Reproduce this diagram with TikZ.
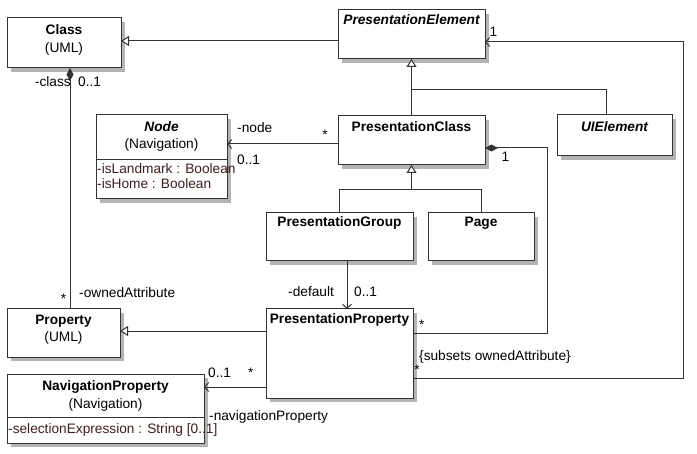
\documentclass[tikz,border=0pt]{standalone}
\usepackage{fontspec}
\setmainfont{Liberation Sans}
\usetikzlibrary{arrows.meta,shadows}
\definecolor{linec}{HTML}{333333}
\definecolor{attrc}{HTML}{3F1F1F}
\definecolor{shadowc}{HTML}{B4B4B4}
\newcommand{\fsz}{\fontsize{13.7bp}{16.5bp}\selectfont}
\begin{document}
\begin{tikzpicture}[x=1bp,y=-1bp,
  box/.style={draw=linec, line width=1bp, fill=white, anchor=north west,
    inner sep=0, outer sep=0,
    drop shadow={shadow xshift=4bp, shadow yshift=-4bp, fill=shadowc, draw=none, opacity=1}},
  ttl/.style={font=\fsz\bfseries, anchor=base, inner sep=0},
  ttli/.style={font=\fsz\bfseries\itshape, anchor=base, inner sep=0},
  sub/.style={font=\fsz, anchor=base, inner sep=0},
  attr/.style={font=\fsz, anchor=base west, inner sep=0, text=attrc},
  lbl/.style={font=\fsz, inner sep=0},
  conn/.style={draw=linec, line width=1bp},
  gen/.style={conn, -{Triangle[open, length=8bp, width=10bp, fill=white]}},
  assoc/.style={conn, -{Straight Barb[length=4bp, width=9bp]}},
  comp/.style={conn, {Diamond[length=13bp, width=7bp]}-}
]
\useasboundingbox (0,0) rectangle (697,454);

% boxes
\node[box, minimum width=114bp, minimum height=50bp] (cls) at (7,18) {};
\node[box, minimum width=147bp, minimum height=49bp] (pe) at (338,10) {};
\node[box, minimum width=147bp, minimum height=49bp] (pc) at (338,116) {};
\node[box, minimum width=115bp, minimum height=41bp] (ui) at (557,115) {};
\node[box, minimum width=131bp, minimum height=84bp] (nodeb) at (96,115) {};
\node[box, minimum width=147bp, minimum height=48bp] (pg) at (266,213) {};
\node[box, minimum width=106bp, minimum height=48bp] (page) at (428,213) {};
\node[box, minimum width=147bp, minimum height=89bp] (pp) at (266,309) {};
\node[box, minimum width=113bp, minimum height=48bp] (prop) at (7,309) {};
\node[box, minimum width=197bp, minimum height=69bp] (navp) at (7,374) {};

% separators
\draw[conn] (nodeb.west |- 0,160) -- (nodeb.east |- 0,160);
\draw[conn] (navp.west |- 0,417) -- (navp.east |- 0,417);

% texts in boxes
\node[ttl] (clsT) at (cls.north |- 0,35) {Class};
\node[sub] (clsS) at (cls.north |- 0,52.5) {(UML)};
\node[ttli] (peT) at (pe.north |- 0,25) {PresentationElement};
\node[ttl] (pcT) at (pc.north |- 0,132) {PresentationClass};
\node[ttli] (uiT) at (ui.north |- 0,132) {UIElement};
\node[ttli] (nodeT) at (nodeb.north |- 0,131.7) {Node};
\node[sub] (nodeS) at (nodeb.north |- 0,149) {(Navigation)};
\node[attr] (nodeA1) at (97,173.5) {-isLandmark : Boolean};
\node[attr] (nodeA2) at (97,188.5) {-isHome : Boolean};
\node[ttl] (pgT) at (pg.north |- 0,227) {PresentationGroup};
\node[ttl] (pageT) at (page.north |- 0,227) {Page};
\node[ttl] (ppT) at (pp.north |- 0,324) {PresentationProperty};
\node[ttl] (propT) at (prop.north |- 0,325) {Property};
\node[sub] (propS) at (prop.north |- 0,342) {(UML)};
\node[ttl] (navpT) at (navp.north |- 0,390) {NavigationProperty};
\node[sub] (navpS) at (navp.north |- 0,408.5) {(Navigation)};
\node[attr] (navpA) at (8,433) {-selectionExpression : String [0..1]};

% connectors
\draw[gen] (pe.west |- 0,41) -- (cls.east |- 0,41);
\coordinate (bendR) at (683,42);
\draw[assoc] (pp.east |- 0,378) -| (bendR) -- (pe.east |- bendR);
\draw[gen] (pc.north) -- (pe.south);
\draw[conn] (pc.north |- 0,90) -| (ui.north -| 606,0);
\coordinate (bendC) at (547,333);
\draw[comp] (pc.east |- 0,148) -| (bendC) -- (pp.east |- bendC);
\coordinate (genJ) at (pc.south |- 0,190);
\draw[gen] (pg.north) |- (genJ) -- (pc.south);
\draw[conn] (page.north) |- (genJ);
\draw[assoc] (pg.south -| 347,0) -- (pp.north -| 347,0);
\draw[gen] (pp.west |- 0,331) -- (prop.east |- 0,331);
\draw[assoc] (pp.west |- 0,387) -- (navp.east |- 0,387);
\draw[assoc] (pc.west |- 0,144) -- (nodeb.east |- 0,144);
\draw[comp] (cls.south -| 70,0) -- (prop.north -| 70,0);

% labels
\node[lbl, anchor=base east] (lClass) at (71,87) {-class};
\node[lbl, anchor=base west] (lClassM) at (78,87) {0..1};
\node[lbl, anchor=base] (lOwnM) at (63.5,304) {*};
\node[lbl, anchor=base west] (lOwn) at (79,298) {-ownedAttribute};
\node[lbl, anchor=base west] (lNode) at (237,133) {-node};
\node[lbl, anchor=base] (lNodeS) at (325,140) {*};
\node[lbl, anchor=base west] (lNodeM) at (237,165) {0..1};
\node[lbl, anchor=base west] (lPE1) at (489.5,37) {1};
\node[lbl, anchor=base west] (lPC1) at (501.5,161.7) {1};
\node[lbl, anchor=base west] (lDef) at (288,297) {-default};
\node[lbl, anchor=base west] (lDefM) at (354,297) {0..1};
\node[lbl, anchor=base] (lPPs1) at (421.7,329.5) {*};
\node[lbl, anchor=base west] (lSub) at (419,360.5) {\{subsets ownedAttribute\}};
\node[lbl, anchor=base] (lPPs2) at (417,374.5) {*};
\node[lbl, anchor=base west] (lNavM) at (208,377) {0..1};
\node[lbl, anchor=base] (lNavS) at (250.7,377) {*};
\node[lbl, anchor=base west] (lNav) at (209,420) {-navigationProperty};
\end{tikzpicture}
\end{document}
